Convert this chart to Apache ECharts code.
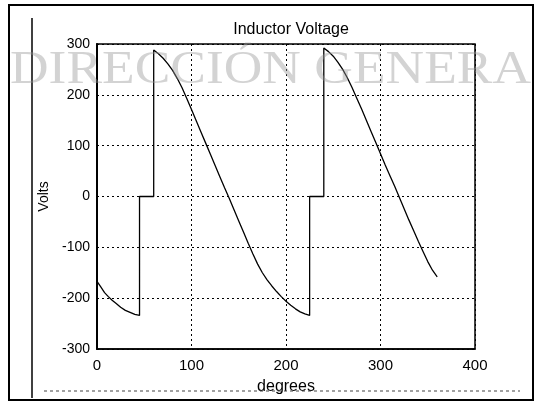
<!DOCTYPE html>
<html>
<head>
<meta charset="utf-8">
<script src="https://cdn.jsdelivr.net/npm/echarts@6/dist/echarts.min.js"></script>
<style>
  html, body { margin: 0; padding: 0; background: #fff; }
  #chart { width: 534px; height: 402px; }
</style>
</head>
<body>
<div id="chart"></div>
<script>
// Inductor voltage over one cycle (degrees, volts)
const degrees = [
  0, 4, 8, 12, 16, 20, 25, 30, 35, 40, 45,
  45, 60,
  60, 65, 70, 75, 80, 85, 90, 95, 100, 105, 110, 115, 120, 125, 130, 135, 140,
  145, 150, 155, 160, 165, 170, 175, 180, 185, 190, 195, 200, 205, 210, 215, 220, 225,
  225, 240,
  240, 245, 250, 255, 260, 265, 270, 275, 280, 285, 290, 295, 300, 305, 310, 315, 320,
  325, 330, 335, 340, 345, 350, 355, 360
];
const volts = [
  -167, -178, -189, -197, -204, -210, -218, -224, -228, -232, -234,
  0, 0,
  288, 281, 272, 261, 248, 232, 214, 193, 171, 149, 127, 105, 83, 61, 39, 17, -4,
  -26, -48, -70, -92, -113, -133, -150, -164, -176, -187, -197, -206, -214, -221, -227, -231, -234,
  0, 0,
  292, 285, 276, 264, 250, 233, 214, 193, 172, 150, 128, 106, 84, 62, 41, 20, -2,
  -24, -46, -67, -88, -108, -128, -145, -158
];

const xTicks = [0, 100, 200, 300, 400];
const yTicks = [-300, -200, -100, 0, 100, 200, 300];

const titleText = 'Inductor Voltage';
const xName = 'degrees';
const yName = 'Volts';
const stampText = 'DIRECCIÓN GENERA';

const points = degrees.map((d, i) => [d, volts[i]]);

const chart = echarts.init(document.getElementById('chart'), null, { renderer: 'canvas' });

const sans = 'Liberation Sans, Arial, sans-serif';
const gridDash = { color: '#000', width: 1, type: [2, 3] };

chart.setOption({
  animation: false,
  backgroundColor: '#fff',
  title: {
    text: titleText,
    left: 286, top: 17, textAlign: 'center',
    textStyle: { color: '#000', fontFamily: sans, fontSize: 16, fontWeight: 'normal' }
  },
  grid: {
    left: 97, top: 44, width: 378, height: 305,
    show: true, borderColor: '#000', borderWidth: 1.5, backgroundColor: 'transparent'
  },
  xAxis: {
    type: 'value', min: xTicks[0], max: xTicks[xTicks.length - 1], interval: 100,
    name: xName, nameLocation: 'middle', nameGap: 30,
    nameTextStyle: { color: '#000', fontFamily: sans, fontSize: 16 },
    axisLine: { show: true, onZero: false, lineStyle: { color: '#000', width: 1.5 } },
    axisTick: { show: false },
    axisLabel: { color: '#000', fontFamily: sans, fontSize: 15, margin: 9 },
    splitLine: { show: true, lineStyle: gridDash }
  },
  yAxis: {
    type: 'value', min: yTicks[0], max: yTicks[yTicks.length - 1], interval: 100,
    name: yName, nameLocation: 'middle', nameGap: 46, nameRotate: 90,
    nameTextStyle: { color: '#000', fontFamily: sans, fontSize: 14 },
    axisLine: { show: true, onZero: false, lineStyle: { color: '#000', width: 2 } },
    axisTick: { show: false },
    axisLabel: { color: '#000', fontFamily: sans, fontSize: 14, margin: 7 },
    splitLine: { show: true, lineStyle: gridDash }
  },
  series: [{
    type: 'line',
    data: points,
    showSymbol: false,
    lineStyle: { color: '#000', width: 1.3 },
    z: 5
  }],
  graphic: [
    // outer frame of the figure
    { type: 'rect', z: 100, shape: { x: 9, y: 5, width: 524, height: 395 },
      style: { fill: 'none', stroke: '#000', lineWidth: 2 } },
    // inner left rule
    { type: 'line', z: 100, shape: { x1: 32, y1: 18, x2: 32, y2: 398 },
      style: { stroke: '#000', lineWidth: 1.5 } },
    // dotted rule under the x-axis name
    { type: 'line', z: 100, shape: { x1: 44, y1: 391, x2: 520, y2: 391 },
      style: { stroke: '#444', lineWidth: 1, lineDash: [3, 3] } },
    // stamped lettering across the top
    { type: 'text', z: 200, x: 10, y: 71, scaleX: 1.137,
      style: { text: stampText, x: 0, y: 0, fill: 'rgba(150,150,150,0.42)',
        font: '47px "Liberation Serif", "Times New Roman", serif',
        textAlign: 'left', textVerticalAlign: 'middle' } }
  ]
});
</script>
</body>
</html>
